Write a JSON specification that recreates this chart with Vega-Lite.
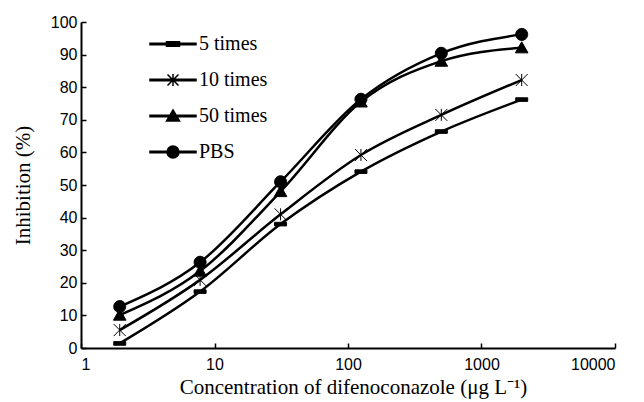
{
  "$schema": "https://vega.github.io/schema/vega-lite/v6.json",
  "width": 534,
  "height": 326,
  "autosize": {"type": "none"},
  "padding": {"left": 81, "top": 22, "right": 29, "bottom": 54},
  "background": "white",
  "config": {
    "view": {"stroke": null},
    "axis": {
      "grid": false,
      "domainColor": "black",
      "domainWidth": 2,
      "tickColor": "black",
      "tickWidth": 1.5,
      "tickSize": -5,
      "labelFont": "Liberation Sans",
      "labelFontSize": 16,
      "labelColor": "black",
      "titleFont": "Liberation Serif",
      "titleFontSize": 21,
      "titleFontWeight": "normal",
      "titleColor": "black"
    },
    "legend": {
      "labelFont": "Liberation Serif",
      "labelFontSize": 20,
      "labelColor": "black"
    }
  },
  "data": {
    "values": [
      {"conc": 1.95, "inhibition": 1.4, "series": "5 times"},
      {"conc": 7.8, "inhibition": 17.3, "series": "5 times"},
      {"conc": 31.25, "inhibition": 38, "series": "5 times"},
      {"conc": 125, "inhibition": 54.1, "series": "5 times"},
      {"conc": 500, "inhibition": 66.4, "series": "5 times"},
      {"conc": 2000, "inhibition": 76.2, "series": "5 times"},
      {"conc": 1.95, "inhibition": 5.5, "series": "10 times"},
      {"conc": 7.8, "inhibition": 20.9, "series": "10 times"},
      {"conc": 31.25, "inhibition": 41, "series": "10 times"},
      {"conc": 125, "inhibition": 59.2, "series": "10 times"},
      {"conc": 500, "inhibition": 71.5, "series": "10 times"},
      {"conc": 2000, "inhibition": 82.2, "series": "10 times"},
      {"conc": 1.95, "inhibition": 10.1, "series": "50 times"},
      {"conc": 7.8, "inhibition": 23.6, "series": "50 times"},
      {"conc": 31.25, "inhibition": 48, "series": "50 times"},
      {"conc": 125, "inhibition": 75.5, "series": "50 times"},
      {"conc": 500, "inhibition": 88, "series": "50 times"},
      {"conc": 2000, "inhibition": 92.1, "series": "50 times"},
      {"conc": 1.95, "inhibition": 12.7, "series": "PBS"},
      {"conc": 7.8, "inhibition": 26.3, "series": "PBS"},
      {"conc": 31.25, "inhibition": 51, "series": "PBS"},
      {"conc": 125, "inhibition": 76.3, "series": "PBS"},
      {"conc": 500, "inhibition": 90.4, "series": "PBS"},
      {"conc": 2000, "inhibition": 96.2, "series": "PBS"}
    ]
  },
  "encoding": {
    "x": {
      "field": "conc",
      "type": "quantitative",
      "scale": {"type": "log", "domain": [1, 10000], "nice": false},
      "axis": {"values": [1, 10, 100, 1000, 10000], "format": "d", "labelPadding": 13, "title": "Concentration of difenoconazole (μg L⁻¹)", "titlePadding": 4, "titleX": 272}
    },
    "y": {
      "field": "inhibition",
      "type": "quantitative",
      "scale": {"domain": [0, 100], "nice": false},
      "axis": {"values": [0, 10, 20, 30, 40, 50, 60, 70, 80, 90, 100], "labelPadding": 9, "title": "Inhibition (%)", "titlePadding": 17}
    }
  },
  "layer": [
    {
      "mark": {"type": "line", "color": "black", "strokeWidth": 2.5, "interpolate": "monotone"},
      "encoding": {"detail": {"field": "series"}}
    },
    {
      "mark": {"type": "point", "filled": true, "color": "black", "stroke": "black", "strokeWidth": 1, "opacity": 1, "size": 144},
      "encoding": {
        "shape": {
          "field": "series",
          "type": "nominal",
          "scale": {
            "domain": ["5 times", "10 times", "50 times", "PBS"],
            "range": [
              "M-1,-0.3H1V0.3H-1Z",
              "M-1,-1L1,1M-1,1L1,-1M0,-1V1",
              "M0,-1L1.05,0.85H-1.05Z",
              "M-1,0A1,1 0 1,1 1,0A1,1 0 1,1 -1,0Z"
            ]
          },
          "legend": null
        }
      }
    },
    {
      "transform": [{"filter": "false"}],
      "mark": {"type": "point", "filled": false, "fill": "black", "stroke": "black", "strokeWidth": 0.9, "opacity": 1},
      "encoding": {
        "shape": {
          "field": "series",
          "type": "nominal",
          "scale": {
            "domain": ["5 times", "10 times", "50 times", "PBS"],
            "range": [
              "M-2.3,-0.08H2.3V0.08H-2.3ZM-0.65,-0.22H0.65V0.22H-0.65Z",
              "M-2.3,-0.08H2.3V0.08H-2.3ZM-0.55,-0.55L0.55,0.55M-0.55,0.55L0.55,-0.55M0,-0.6V0.6",
              "M-2.3,-0.08H2.3V0.08H-2.3ZM0,-0.6L0.65,0.5H-0.65Z",
              "M-2.3,-0.08H2.3V0.08H-2.3ZM-0.6,0A0.6,0.6 0 1,1 0.6,0A0.6,0.6 0 1,1 -0.6,0Z"
            ]
          },
          "legend": {
            "orient": "none",
            "legendX": 81,
            "legendY": 11,
            "title": null,
            "padding": 0,
            "symbolSize": 400,
            "rowPadding": 15,
            "labelOffset": 15,
            "encode": {
              "symbols": {
                "update": {
                  "fill": {"value": "black"},
                  "stroke": {"value": "black"},
                  "strokeWidth": {"value": 1},
                  "opacity": {"value": 1}
                }
              },
              "labels": {
                "update": {
                  "font": {"value": "Liberation Serif"},
                  "fontSize": {"value": 20},
                  "fill": {"value": "black"}
                }
              }
            }
          }
        }
      }
    }
  ],
  "resolve": {"scale": {"shape": "independent"}}
}
